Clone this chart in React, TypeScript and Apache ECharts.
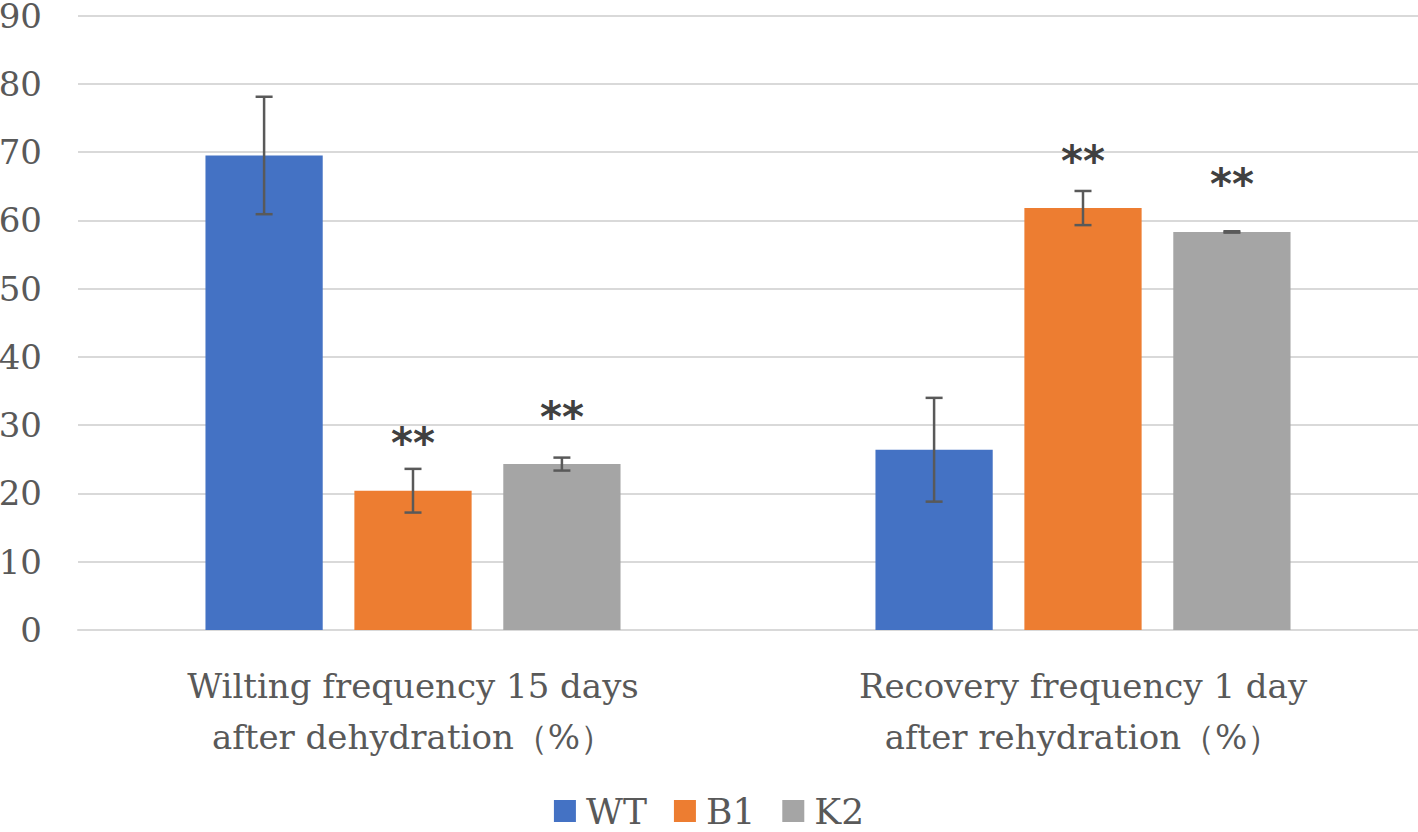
import React, { useEffect, useRef } from 'react';
import * as echarts from 'echarts';

const categories = [
  'Wilting frequency 15 days\nafter dehydration（%）',
  'Recovery frequency 1 day\nafter rehydration（%）',
];
const seriesNames = ['WT', 'B1', 'K2'];
const wtValues = [69.5, 26.4];
const b1Values = [20.4, 61.8];
const k2Values = [24.3, 58.3];
const wtErrors = [8.6, 7.6];
const b1Errors = [3.2, 2.5];
const k2Errors = [0.95, 0.1];
const wtSignificance = ['', ''];
const b1Significance = ['**', '**'];
const k2Significance = ['**', '**'];
const yMin = 0;
const yMax = 90;
const yInterval = 10;

const colors = ['#4472C4', '#ED7D31', '#A5A5A5'];
const BAR_W = 0.175;
const BAR_GAP = 0.27;
const SERIF = 'DejaVu Serif';

export default function App() {
  const ref = useRef<HTMLDivElement>(null);
  useEffect(() => {
    if (!ref.current) return;
    const chart = echarts.init(ref.current, null, { renderer: 'svg' });
    const allValues = [wtValues, b1Values, k2Values];
    const allErrors = [wtErrors, b1Errors, k2Errors];
    const allSig = [wtSignificance, b1Significance, k2Significance];

    const barSeries = seriesNames.map((name, k) => ({
      name,
      type: 'bar',
      data: allValues[k],
      barWidth: BAR_W * 100 + '%',
      barGap: BAR_GAP * 100 + '%',
      itemStyle: { color: colors[k] },
      z: 2,
      label: {
        show: true,
        position: 'top',
        distance: 26,
        formatter: (p: any) => allSig[k][p.dataIndex] || '',
        fontFamily: 'DejaVu Sans',
        fontWeight: 'bold',
        fontSize: 42,
        color: '#404040',
      },
    }));

    const errSeries = seriesNames.map((name, k) => ({
      type: 'custom',
      z: 5,
      silent: true,
      data: allValues[k].map((v, i) => [i, v - allErrors[k][i], v + allErrors[k][i]]),
      renderItem: (params: any, api: any) => {
        const band = api.size([1, 0])[0];
        const bw = band * BAR_W;
        const gap = bw * BAR_GAP;
        const offset = (k - 1) * (bw + gap);
        const lo = api.coord([api.value(0), api.value(1)]);
        const hi = api.coord([api.value(0), api.value(2)]);
        const x = lo[0] + offset;
        const cap = 8.5;
        const style = { stroke: '#595959', lineWidth: 2.5 };
        return {
          type: 'group',
          children: [
            { type: 'line', shape: { x1: x, y1: lo[1], x2: x, y2: hi[1] }, style },
            { type: 'line', shape: { x1: x - cap, y1: lo[1], x2: x + cap, y2: lo[1] }, style },
            { type: 'line', shape: { x1: x - cap, y1: hi[1], x2: x + cap, y2: hi[1] }, style },
          ],
        };
      },
    }));

    chart.setOption({
      animation: false,
      textStyle: { fontFamily: SERIF },
      grid: {
        left: 78,
        right: 0,
        top: 15.5,
        bottom: 202,
        containLabel: false,
        outerBoundsMode: 'none',
      },
      legend: {
        data: seriesNames,
        top: 788,
        left: 'center',
        icon: 'rect',
        itemWidth: 22,
        itemHeight: 22,
        itemGap: 27,
        textStyle: {
          fontFamily: SERIF,
          fontSize: 36,
          color: '#595959',
          padding: [0, 0, 0, 5],
        },
      },
      xAxis: {
        type: 'category',
        data: categories,
        axisTick: { show: false },
        axisLine: { lineStyle: { color: '#D9D9D9', width: 2 } },
        axisLabel: {
          margin: 30,
          fontFamily: SERIF,
          fontSize: 34,
          lineHeight: 51,
          color: '#595959',
        },
      },
      yAxis: {
        type: 'value',
        min: yMin,
        max: yMax,
        interval: yInterval,
        axisLine: { show: false },
        axisTick: { show: false },
        splitLine: { lineStyle: { color: '#D9D9D9', width: 2 } },
        axisLabel: {
          margin: 36,
          fontFamily: SERIF,
          fontSize: 34,
          color: '#595959',
        },
      },
      series: [...barSeries, ...errSeries],
    });
    return () => chart.dispose();
  }, []);
  return (
    <div
      ref={ref}
      style={{ position: 'fixed', left: 0, top: 0, width: 1418, height: 832, background: '#fff' }}
    />
  );
}
